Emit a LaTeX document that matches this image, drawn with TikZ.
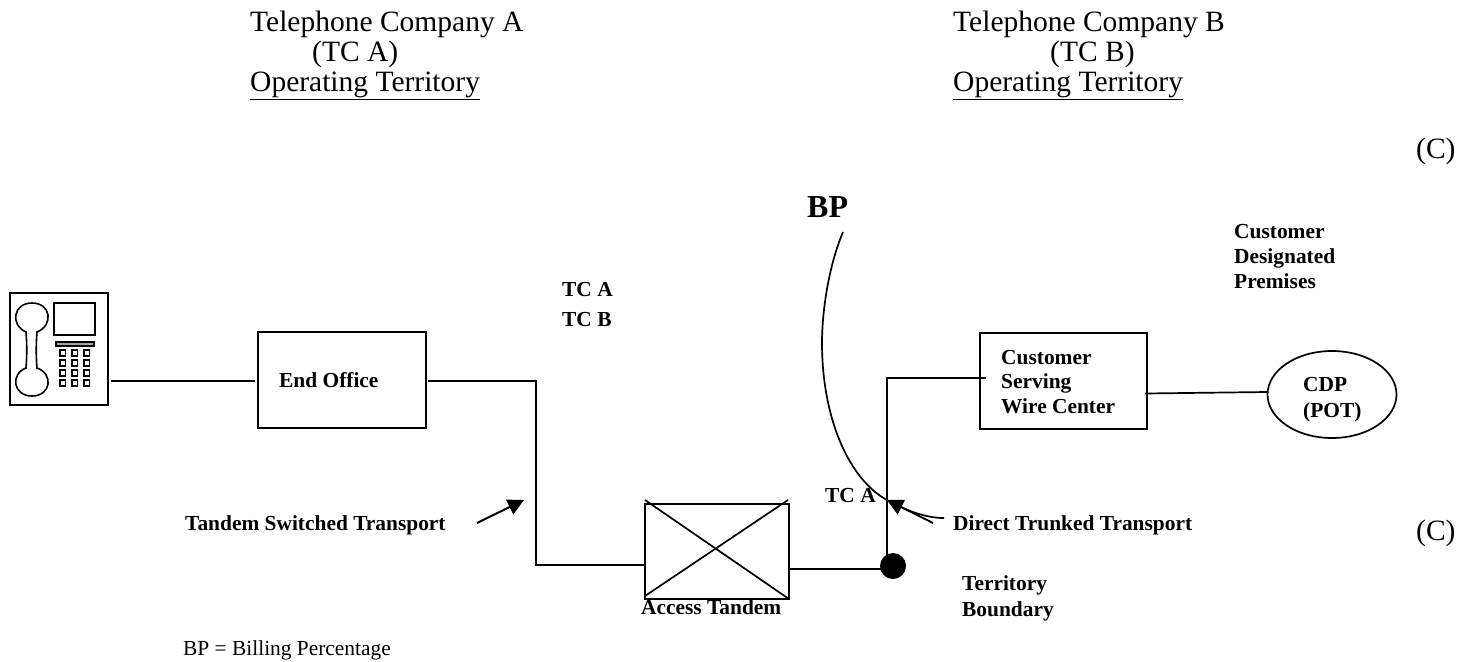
\documentclass[tikz,border=0pt]{standalone}
\usepackage{fontspec}
\setmainfont{Liberation Serif}
\usetikzlibrary{arrows.meta,calc,shapes.geometric}
\tikzset{
  head/.style={anchor=base west,inner sep=0pt,font=\fontsize{29.5}{29.5}\selectfont},
  lab/.style={anchor=base west,inner sep=0pt,font=\fontsize{21.4}{25}\selectfont\bfseries},
  note/.style={anchor=base west,inner sep=0pt,font=\fontsize{21.4}{25}\selectfont},
  boxn/.style={draw,line width=1.7pt,inner sep=0pt},
  wire/.style={line width=1.7pt},
  keycap/.style={line width=1.6pt},
  pointer/.style={line width=2pt,-{Triangle[length=16pt,width=16pt]}}
}
\begin{document}
\begin{tikzpicture}[x=1pt,y=-1pt]
\useasboundingbox (0,0) rectangle (1471,661);
% headings
\node[head] (h1) at (250,32) {Telephone Company A};
\node[head] (h2) at (312,62) {(TC A)};
\node[head] (h3) at (250,91) {\underline{Operating Territory}};
\node[head] (h4) at (953,32) {Telephone Company B};
\node[head] (h5) at (1050,62) {(TC B)};
\node[head] (h6) at (953,91) {\underline{Operating Territory}};
\node[head] (c1) at (1416,158) {(C)};
\node[head] (c2) at (1416,540) {(C)};
\node[anchor=base west,inner sep=0pt,font=\fontsize{32}{34}\selectfont\bfseries] (bp) at (807,217) {BP};
% labels
\node[lab] (l1) at (1234,238) {Customer};
\node[lab] (l2) at (1234,263) {Designated};
\node[lab] (l3) at (1234,288) {Premises};
\node[lab] (t1) at (562,296) {TC A};
\node[lab] (t2) at (562,326) {TC B};
\node[lab] (l4) at (185,530) {Tandem Switched Transport};
\node[lab] (l5) at (953,530) {Direct Trunked Transport};
\node[lab] (l6) at (825,502) {TC A};
\node[lab] (l7) at (962,590) {Territory};
\node[lab] (l8) at (962,616) {Boundary};
\node[note] (n1) at (183,655) {BP = Billing Percentage};
% boxes
\node[boxn,minimum width=168pt,minimum height=96pt] (eo) at (342,380) {};
\node[lab] (eot) at (279,387) {End Office};
\node[boxn,minimum width=167pt,minimum height=96pt] (cs) at (1063.5,381) {};
\node[lab] (cs1) at (1001,364) {Customer};
\node[lab] (cs2) at (1001,388) {Serving};
\node[lab] (cs3) at (1001,413) {Wire Center};
\node[boxn,minimum width=144pt,minimum height=95pt] (at) at (717,551.5) {};
\coordinate (x1) at (645,500);
\coordinate (x2) at (789,599);
\coordinate (x3) at (788,500);
\coordinate (x4) at (645,596);
\draw[wire] (x1) -- (x2) (x3) -- (x4);
\node[lab] (l9) at (641,614) {Access Tandem};
\node[boxn,ellipse,minimum width=129pt,minimum height=87pt] (cdp) at (1332,394.5) {};
\node[lab] (cd1) at (1303,391) {CDP};
\node[lab] (cd2) at (1303,417) {(POT)};
\node[circle,fill=black,minimum size=26pt,inner sep=0pt] (dot) at (893,566) {};
% phone
\node[boxn,minimum width=98pt,minimum height=112pt] (ph) at (59,349) {};
\draw[keycap] (26,332)
  .. controls (10,325) and (13,303) .. (32,303)
  .. controls (51,303) and (54,325) .. (37,332)
  .. controls (36,344) and (36,356) .. (37,368)
  .. controls (54,374) and (51,396) .. (32,396)
  .. controls (13,396) and (10,374) .. (26,368)
  .. controls (27,356) and (27,344) .. (26,332) -- cycle;
\draw[keycap] (54,303) rectangle (95,335);
\draw[keycap,fill=black!35] (56,342) rectangle (94,346);
\foreach \xx in {60,72,84}{\foreach \yy in {350,360,370,380}{\draw[keycap] (\xx,\yy) rectangle ++(5.5,6);}}
% wires
\coordinate (p1) at (536,381);
\coordinate (p2) at (536,565);
\coordinate (p3) at (887,378);
\coordinate (w0) at (428,381);
\coordinate (w1) at (111,381);
\coordinate (w2) at (255,381);
\coordinate (w3) at (789,569);
\coordinate (w4) at (882,569);
\coordinate (w5) at (887,556);
\coordinate (w8) at (986,378);
\coordinate (w6) at (1145,393.5);
\coordinate (w7) at (1267,392);
\draw[wire] (w1) -- (w2);
\draw[wire] (w0) -- (p1) -- (p2) -- (at.west |- p2);
\draw[wire] (w3) -- (w4);
\draw[wire] (w5) -- (p3) -- (w8);
\draw[wire] (w6) -- (w7);
% BP curve
\coordinate (b0) at (843,232);
\coordinate (b1) at (822,343);
\coordinate (b2) at (887,500);
\coordinate (b3) at (944,518);
\draw[wire] (b0) .. controls (829,265) and (822,310) .. (b1)
  .. controls (822,420) and (850,480) .. (b2)
  .. controls (905,510) and (925,518) .. (b3);
% arrows
\coordinate (a1) at (477,523);
\coordinate (a2) at (524,500);
\draw[pointer] (a1) -- (a2);
\coordinate (a3) at (933,523);
\coordinate (a4) at (887,500);
\draw[pointer] (a3) -- (a4);
\end{tikzpicture}
\end{document}
